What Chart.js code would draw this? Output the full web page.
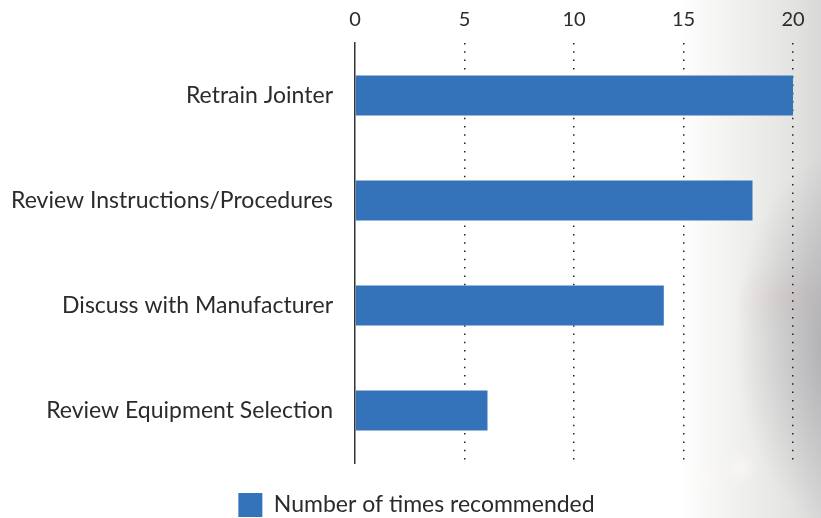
<!DOCTYPE html>
<html>
<head>
<meta charset="utf-8">
<script src="https://cdn.jsdelivr.net/npm/chart.js@4.4.1/dist/chart.umd.min.js"></script>
<style>
  html, body { margin: 0; padding: 0; }
  body {
    width: 821px; height: 518px; overflow: hidden;
    background:
      radial-gradient(ellipse 20px 18px at 740px 468px, rgba(255,248,246,0.6), rgba(255,255,255,0) 100%),
      radial-gradient(ellipse 18px 16px at 705px 478px, rgba(255,248,246,0.5), rgba(255,255,255,0) 100%),
      radial-gradient(ellipse 110px 190px at 845px 340px, rgba(150,150,156,0.7), rgba(150,150,156,0) 100%),
      radial-gradient(ellipse 60px 40px at 790px 300px, rgba(225,200,195,0.3), rgba(225,200,195,0) 100%),
      linear-gradient(to right, #ffffff 0px, #ffffff 680px, #f2f2f0 730px, #e4e4e2 790px, #d8d8d8 821px);
  }
  #wrap { position: absolute; left: 0; top: 0; width: 821px; height: 518px; }
</style>
</head>
<body>
<div id="wrap"><canvas id="c" width="821" height="518"></canvas></div>
<script>
const categories = ["Retrain Jointer", "Review Instructions/Procedures", "Discuss with Manufacturer", "Review Equipment Selection"];
const seriesName = "Number of times recommended";
const seriesValues = [20, 18.15, 14.1, 6.05];
const xTicks = [0, 5, 10, 15, 20];

const FONT = "Lato, 'Open Sans', sans-serif";
const TEXT = "#2b2b2b";

const legendShift = {
  id: 'legendShift',
  afterLayout(chart) {
    const lg = chart.legend;
    if (lg) { lg.top += 16; lg.bottom += 16; lg.left += 20; lg.right += 20; }
  }
};

new Chart(document.getElementById('c'), {
  type: 'bar',
  data: {
    labels: categories,
    datasets: [{
      label: seriesName,
      data: seriesValues,
      backgroundColor: '#3473ba',
      borderWidth: 0,
      barPercentage: 0.76,
      categoryPercentage: 0.5
    }]
  },
  plugins: [legendShift],
  options: {
    indexAxis: 'y',
    responsive: false,
    animation: false,
    layout: { padding: { left: 0, right: 28, top: 0, bottom: 7 } },
    plugins: {
      tooltip: { enabled: false },
      legend: {
        position: 'bottom',
        labels: {
          boxWidth: 24, boxHeight: 24, padding: 14,
          color: TEXT,
          font: { family: FONT, size: 23 }
        }
      }
    },
    scales: {
      x: {
        position: 'top',
        min: 0, max: 20,
        afterBuildTicks: s => { s.ticks = xTicks.map(v => ({ value: v })); },
        afterFit: s => { s.height = 43; },
        ticks: { color: TEXT, font: { family: FONT, size: 20 }, padding: 11 },
        border: { display: false, dash: [1.5, 6.8] },
        grid: {
          drawTicks: false,
          color: ctx => ctx.tick && ctx.tick.value === 0 ? 'rgba(0,0,0,0)' : '#222',
          lineWidth: 1.5
        }
      },
      y: {
        afterFit: s => { s.width = 355; },
        ticks: { color: TEXT, font: { family: FONT, size: 23 }, padding: 14 },
        border: { display: true, color: '#333', width: 1.5 },
        grid: { display: false }
      }
    }
  }
});
</script>
</body>
</html>
